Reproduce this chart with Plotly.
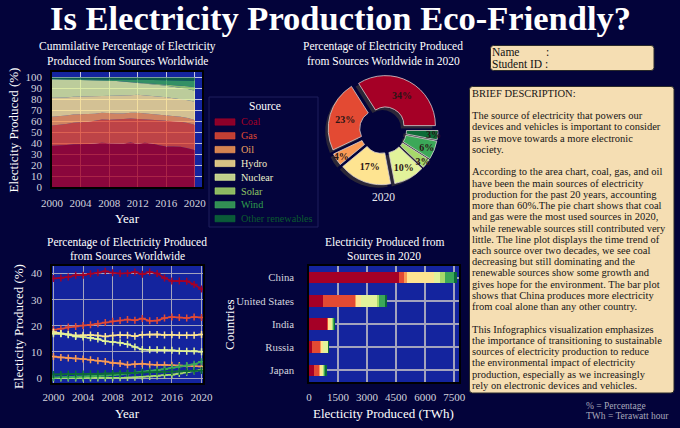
import plotly.graph_objects as go

W, H = 680, 428
FONT = "Liberation Serif"

years = list(range(2000, 2021))
sources = ["Coal", "Gas", "Oil", "Hydro", "Nuclear", "Solar", "Wind", "Other renewables"]
colors = ["#a50026", "#e34a33", "#f99a55", "#fee491", "#e2f29a", "#a6d96a", "#3ba858", "#0c6b37"]
legend_text_colors = ["#a50026", "#e04a33", "#f0a060", "#f3ecc8", "#eef3cf", "#8fc463", "#2f9e4d", "#0b5a2f"]

coal = [38.1, 38.3, 38.7, 39.4, 39.4, 39.9, 40.3, 40.9, 40.3, 40.0, 40.1, 40.6, 39.7, 40.6, 40.0, 38.3, 37.2, 37.2, 37.1, 35.8, 34.1]
gas = [18.5, 18.9, 19.5, 19.7, 20.1, 20.4, 20.8, 21.3, 21.7, 22.0, 22.4, 22.1, 22.8, 21.9, 22.0, 23.0, 23.4, 23.2, 23.0, 23.4, 23.2]
oil = [8.2, 7.9, 7.7, 7.5, 7.3, 7.0, 6.6, 6.3, 5.8, 5.6, 5.1, 5.3, 5.5, 5.2, 5.0, 5.0, 4.9, 4.8, 4.6, 4.5, 4.4]
hydro = [17.6, 17.1, 16.8, 16.3, 16.4, 16.5, 16.3, 15.9, 16.3, 16.5, 16.4, 16.0, 16.6, 16.7, 16.7, 16.5, 16.6, 16.4, 16.4, 16.4, 16.7]
nuclear = [17.0, 17.0, 16.6, 15.9, 15.7, 15.4, 14.9, 14.1, 13.8, 13.5, 12.9, 11.9, 10.9, 10.8, 10.8, 10.7, 10.6, 10.4, 10.3, 10.4, 10.1]
solar = [0.0, 0.0, 0.0, 0.0, 0.0, 0.0, 0.0, 0.0, 0.1, 0.1, 0.2, 0.3, 0.5, 0.6, 0.8, 1.1, 1.3, 1.7, 2.2, 2.7, 3.2]
wind = [0.2, 0.3, 0.3, 0.4, 0.5, 0.6, 0.7, 0.9, 1.1, 1.4, 1.7, 2.0, 2.3, 2.7, 3.0, 3.4, 3.9, 4.4, 4.8, 5.3, 6.2]
other = [1.4, 1.4, 1.5, 1.5, 1.5, 1.6, 1.6, 1.7, 1.7, 1.8, 1.9, 2.0, 2.1, 2.2, 2.3, 2.4, 2.4, 2.5, 2.6, 2.7, 2.9]
series = [coal, gas, oil, hydro, nuclear, solar, wind, other]

pie_values = [34, 23, 4, 17, 10, 3, 6, 3]

countries = ["China", "United States", "India", "Russia", "Japan"]
bar_coal = [4636, 727, 934, 150, 242]
bar_gas = [277, 1661, 52, 440, 311]
bar_oil = [138, 35, 9, 10, 52]
bar_hydro = [1384, 260, 173, 140, 87]
bar_nuclear = [346, 813, 52, 250, 52]
bar_solar = [260, 104, 35, 2, 69]
bar_wind = [467, 363, 52, 1, 17]
bar_other = [138, 87, 35, 5, 69]
bar_series = [bar_coal, bar_gas, bar_oil, bar_hydro, bar_nuclear, bar_solar, bar_wind, bar_other]

description = [
    "BRIEF DESCRIPTION:",
    "",
    "The source of electricity that powers our",
    "devices and vehicles is important to consider",
    "as we move towards a more electronic",
    "society.",
    "",
    "According to the area chart, coal, gas, and oil",
    "have been the main sources of electricity",
    "production for the past 20 years, accounting",
    "more than 60%.The pie chart shows that coal",
    "and gas were the most used sources in 2020,",
    "while renewable sources still contributed very",
    "little. The line plot displays the time trend of",
    "each source over two decades, we see coal",
    "decreasing but still dominating and the",
    "renewable sources show some growth and",
    "gives hope for the environment. The bar plot",
    "shows that China produces more electricity",
    "from coal alone than any other country.",
    "",
    "This Infographics visualization emphasizes",
    "the importance of transitioning to sustainable",
    "sources of electricity production to reduce",
    "the environmental impact of electricity",
    "production, especially as we increasingly",
    "rely on electronic devices and vehicles.",
]


def px(x):
    return x / W


def py(y):
    return 1 - y / H


def rgba(hexc, a):
    h = hexc.lstrip("#")
    r, g, b = int(h[0:2], 16), int(h[2:4], 16), int(h[4:6], 16)
    return f"rgba({r},{g},{b},{a})"


fig = go.Figure()

# Area chart
for name, vals, c in zip(sources, series, colors):
    fig.add_trace(go.Scatter(
        x=years, y=vals, name=name, mode="lines", stackgroup="one", groupnorm="percent",
        line=dict(width=0, color=c), fillcolor=rgba(c, 0.82), showlegend=False,
        xaxis="x", yaxis="y", hoverinfo="skip"))

# Line chart
for name, vals, c in zip(sources, series, colors):
    fig.add_trace(go.Scatter(
        x=years, y=vals, name=name, mode="lines+markers",
        line=dict(width=1.6, color=c),
        marker=dict(symbol="cross-thin", size=5, line=dict(width=1.5, color=c)),
        showlegend=False, xaxis="x2", yaxis="y2"))

# Bar chart
for name, vals, c in zip(sources, bar_series, colors):
    fig.add_trace(go.Bar(
        y=countries, x=vals, orientation="h", name=name, marker=dict(color=c, line=dict(width=0)),
        width=0.5, showlegend=False, xaxis="x3", yaxis="y3"))

# Pie with shadow: first slice starts at 3 o'clock and runs counterclockwise
pie_rotation = 90 - pie_values[0] / sum(pie_values) * 360
cx, cy, half = 383, 130, 55
sh = 3
fig.add_trace(go.Pie(
    values=pie_values, labels=sources, sort=False, direction="counterclockwise", rotation=pie_rotation,
    pull=[0.1] * len(pie_values), hole=0.37, textinfo="none", hoverinfo="skip",
    marker=dict(colors=["#2b2738"] * len(pie_values), line=dict(width=0)),
    domain=dict(x=[px(cx - half - sh), px(cx + half - sh)], y=[py(cy + half + sh), py(cy - half + sh)]),
    showlegend=False))
fig.add_trace(go.Pie(
    values=pie_values, labels=sources, sort=False, direction="counterclockwise", rotation=pie_rotation,
    pull=[0.1] * len(pie_values), hole=0.37,
    texttemplate="<b>%{value}%</b>", textposition="inside", insidetextorientation="horizontal",
    textfont=dict(family=FONT, size=10, color="#2a1515"),
    marker=dict(colors=colors, line=dict(width=0.8, color="#d8d0d0")),
    domain=dict(x=[px(cx - half), px(cx + half)], y=[py(cy + half), py(cy - half)]),
    showlegend=False))

tickfont = dict(family=FONT, size=11, color="#d4d4de")
base_axis = dict(showgrid=True, zeroline=False, showline=True, mirror=True, automargin=False,
                 linecolor="black", linewidth=1.5, ticks="", tickfont=tickfont)

layout = dict(
    width=W, height=H, margin=dict(l=0, r=0, t=0, b=0, autoexpand=False),
    paper_bgcolor="#03033a", plot_bgcolor="#14249e", showlegend=False,
    barmode="stack", uniformtext=dict(minsize=10, mode="show"),
    xaxis=dict(domain=[px(52), px(202)], range=[2000, 2021], tickvals=list(range(2000, 2021, 4)),
               anchor="y", gridcolor="rgba(215,215,230,0.9)", gridwidth=1, ticklabelstandoff=5, **base_axis),
    yaxis=dict(domain=[py(187), py(72)], range=[0, 105], tickvals=list(range(0, 101, 10)),
               anchor="x", gridcolor="rgba(215,215,230,0.9)", gridwidth=1, ticklabelstandoff=6, **base_axis),
    xaxis2=dict(domain=[px(52), px(203)], range=[1999.8, 2020.2], tickvals=list(range(2000, 2021, 4)),
                anchor="y2", gridcolor="#a3a3bd", gridwidth=1.2, ticklabelstandoff=3, **base_axis),
    yaxis2=dict(domain=[py(383), py(266)], range=[-1.9, 42.9], tickvals=[0, 10, 20, 30, 40],
                anchor="x2", gridcolor="#a3a3bd", gridwidth=1.2, ticklabelstandoff=6, **base_axis),
    xaxis3=dict(domain=[px(309), px(459)], range=[0, 7750], tickvals=[0, 1500, 3000, 4500, 6000, 7500],
                anchor="y3", gridcolor="#a3a3bd", gridwidth=1.5, ticklabelstandoff=4, **base_axis),
    yaxis3=dict(domain=[py(382), py(266)], type="category", categoryarray=countries,
                categoryorder="array", range=[4.5, -0.5], anchor="x3", gridcolor="#a3a3bd", gridwidth=1.5,
                ticklabelstandoff=11, **base_axis),
)
fig.update_layout(**layout)
fig.update_layout(yaxis3_tickfont=dict(family=FONT, size=10.8, color="#d4d4de"))

anns = []
shapes = []


def ann(x, y, text, size=11, color="white", xanchor="center", angle=0, bold=False):
    anns.append(dict(x=px(x), y=py(y), xref="paper", yref="paper", text=(f"<b>{text}</b>" if bold else text),
                     showarrow=False, xanchor=xanchor, yanchor="middle", textangle=angle,
                     font=dict(family=FONT, size=size, color=color)))


# Main title
ann(340, 18, "Is Electricity Production Eco-Friendly?", size=34.5, bold=True)

# Subplot titles
TS = 11.5
ann(127, 47, "Cummilative Percentage of Electricity", TS)
ann(127, 61, "Produced from Sources Worldwide", TS)
ann(383, 47, "Percentage of Electricity Produced", TS)
ann(383, 61, "from Sources Worldwide in 2020", TS)
ann(127, 242.5, "Percentage of Electricity Produced", TS)
ann(127, 255.5, "from Sources Worldwide", TS)
ann(384, 242.5, "Electricity Produced from", TS)
ann(384, 255.5, "Sources in 2020", TS)
ann(383, 197, "2020", 11.5, "#e8e8f0")

# Axis titles
ann(127, 218, "Year", 13)
ann(12.5, 130, "Electicity Produced (%)", 13, angle=-90)
ann(127, 413, "Year", 13)
ann(18, 327, "Electicity Produced (%)", 13, angle=-90)
ann(383, 413, "Electicity Produced (TWh)", 13)
ann(229, 325, "Countries", 13, angle=-90)

# Manual legend
shapes.append(dict(type="rect", xref="paper", yref="paper", x0=px(209), x1=px(318), y0=py(227), y1=py(97),
                   line=dict(color="#1f1f5c", width=1), fillcolor="#04043c", layer="above"))
ann(265, 106, "Source", 11.5)
for i, (name, c, tc) in enumerate(zip(sources, colors, legend_text_colors)):
    yy = 122 + i * 13.8
    shapes.append(dict(type="rect", xref="paper", yref="paper", x0=px(215), x1=px(235),
                       y0=py(yy + 3.2), y1=py(yy - 3.2), fillcolor=rgba(c, 0.85),
                       line=dict(color=rgba(c, 1), width=0.6), layer="above"))
    ann(239, yy, name, 10.2, tc, xanchor="left")


def rounded(x0, y0, x1, y1, r):
    X0, X1 = px(x0), px(x1)
    Y0, Y1 = py(y0), py(y1)
    rx, ry = r / W, r / H
    return (f"M {X0+rx},{Y0} L {X1-rx},{Y0} Q {X1},{Y0} {X1},{Y0-ry} L {X1},{Y1+ry} "
            f"Q {X1},{Y1} {X1-rx},{Y1} L {X0+rx},{Y1} Q {X0},{Y1} {X0},{Y1+ry} "
            f"L {X0},{Y0-ry} Q {X0},{Y0} {X0+rx},{Y0} Z")


shapes.append(dict(type="path", xref="paper", yref="paper", path=rounded(490.5, 45.5, 654, 70.5, 3),
                   fillcolor="#f5deb3", line=dict(color="#2a2a2a", width=1), layer="above"))
ann(490, 52.5, "Name", 11.5, "#111", xanchor="left")
ann(544, 52.5, ":", 11.5, "#111", xanchor="left")
ann(490, 64.5, "Student ID :", 11.5, "#111", xanchor="left")

shapes.append(dict(type="path", xref="paper", yref="paper", path=rounded(469.5, 86.5, 674, 393, 3),
                   fillcolor="#f5deb3", line=dict(color="#2a2a2a", width=1), layer="above"))
for i, line in enumerate(description):
    if line:
        ann(470, 93.3 + i * 11.23, line, 10.5, "#151515", xanchor="left")

ann(584, 405.5, "% = Percentage", 9.5, "#a9a9bb", xanchor="left")
ann(584, 415.5, "TWh = Terawatt hour", 9.5, "#a9a9bb", xanchor="left")

fig.update_layout(annotations=anns, shapes=shapes)
fig.write_html("out.html", config={"displayModeBar": False},
               post_script="document.body.style.margin='0px';document.body.style.overflow='hidden';")
